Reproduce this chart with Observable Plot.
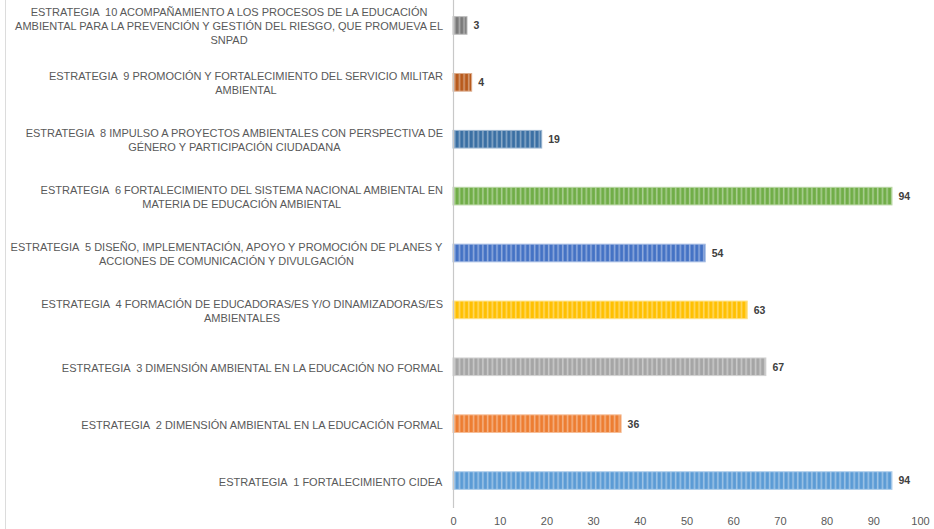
<!DOCTYPE html>
<html><head><meta charset="utf-8">
<script src="https://cdn.jsdelivr.net/npm/d3@7"></script>
<script src="https://cdn.jsdelivr.net/npm/@observablehq/plot@0.6"></script>
<style>
body{margin:0;background:#fff;}
#wrap{position:relative;width:934px;height:529px;overflow:hidden;}
#edge{position:absolute;left:5px;top:0;width:1px;height:529px;background:#dcdcdc;}
svg text{white-space:pre;}
</style></head><body><div id="wrap"><div id="edge"></div></div>
<script>
const labels = [
  "ESTRATEGIA  10 ACOMPAÑAMIENTO A LOS PROCESOS DE LA EDUCACIÓN\nAMBIENTAL PARA LA PREVENCIÓN Y GESTIÓN DEL RIESGO, QUE PROMUEVA EL\nSNPAD",
  "ESTRATEGIA  9 PROMOCIÓN Y FORTALECIMIENTO DEL SERVICIO MILITAR\nAMBIENTAL",
  "ESTRATEGIA  8 IMPULSO A PROYECTOS AMBIENTALES CON PERSPECTIVA DE\nGÉNERO Y PARTICIPACIÓN CIUDADANA",
  "ESTRATEGIA  6 FORTALECIMIENTO DEL SISTEMA NACIONAL AMBIENTAL EN\nMATERIA DE EDUCACIÓN AMBIENTAL",
  "ESTRATEGIA  5 DISEÑO, IMPLEMENTACIÓN, APOYO Y PROMOCIÓN DE PLANES Y\nACCIONES DE COMUNICACIÓN Y DIVULGACIÓN",
  "ESTRATEGIA  4 FORMACIÓN DE EDUCADORAS/ES Y/O DINAMIZADORAS/ES\nAMBIENTALES",
  "ESTRATEGIA  3 DIMENSIÓN AMBIENTAL EN LA EDUCACIÓN NO FORMAL",
  "ESTRATEGIA  2 DIMENSIÓN AMBIENTAL EN LA EDUCACIÓN FORMAL",
  "ESTRATEGIA  1 FORTALECIMIENTO CIDEA"
];
const values = [3, 4, 19, 94, 54, 63, 67, 36, 94];
const colors = ["#7a7a7a", "#b85a1c", "#3a6fa3", "#70ad47", "#4472c4", "#ffc000", "#a5a5a5", "#ed7d31", "#5b9bd5"];
const xTicks = [0, 10, 20, 30, 40, 50, 60, 70, 80, 90, 100];

const data = labels.map((label, i) => ({label, value: values[i], color: colors[i]}));

const chart = Plot.plot({
  width: 934, height: 529,
  marginLeft: 453, marginRight: 14, marginTop: 0, marginBottom: 21,
  style: {fontFamily: "'Liberation Sans', Arial, sans-serif", background: "transparent", color: "#595959", overflow: "visible"},
  x: {domain: [0, 100], ticks: xTicks, label: null, axis: null},
  y: {domain: labels, range: [-3, 509], round: false, paddingInner: 0.69, paddingOuter: 0.345, axis: null},
  marks: [
    Plot.barX(data, {y: "label", x: "value", fill: "color"}),
    Plot.ruleX([0], {stroke: "#c8c8c8", strokeWidth: 1.2}),
    Plot.text(data, {y: "label", x: 0, text: "label", textAnchor: "middle", fontSize: 11, lineHeight: 1.27, fill: "#595959"}),
    Plot.text(data, {y: "label", x: "value", text: d => String(d.value), dx: 6, textAnchor: "start", fontWeight: "bold", fontSize: 10.5, fill: "#404040"}),
    Plot.axisX({ticks: xTicks, tickSize: 0, tickPadding: 9, fontSize: 11, label: null})
  ]
});

document.getElementById("wrap").appendChild(chart);

// stripe patterns for bars
const ns = "http://www.w3.org/2000/svg";
const defs = document.createElementNS(ns, "defs");
chart.insertBefore(defs, chart.firstChild);
const lighten = (c, t) => { const k = d3.rgb(c); return d3.rgb(k.r + (255 - k.r) * t, k.g + (255 - k.g) * t, k.b + (255 - k.b) * t).formatHex(); };
colors.forEach((c, i) => {
  const p = document.createElementNS(ns, "pattern");
  p.setAttribute("id", "pat" + i);
  p.setAttribute("patternUnits", "userSpaceOnUse");
  p.setAttribute("width", "4.7");
  p.setAttribute("height", "40");
  const r0 = document.createElementNS(ns, "rect");
  r0.setAttribute("width", "4.7"); r0.setAttribute("height", "40"); r0.setAttribute("fill", c);
  const r1 = document.createElementNS(ns, "rect");
  r1.setAttribute("x", "2.7"); r1.setAttribute("width", "1.6"); r1.setAttribute("height", "40"); r1.setAttribute("fill", lighten(c, 0.4));
  p.appendChild(r0); p.appendChild(r1);
  defs.appendChild(p);
});
chart.querySelectorAll('g[aria-label="bar"] rect').forEach(r => {
  const f = (r.getAttribute("fill") || "").toLowerCase();
  const i = colors.indexOf(f);
  if (i >= 0) {
    r.setAttribute("fill", "url(#pat" + i + ")");
    r.setAttribute("stroke", lighten(colors[i], 0.5));
    r.setAttribute("stroke-width", "1");
  }
});

// right-align category label blocks (lines centered within block)
const origin = chart.getBoundingClientRect();
chart.querySelectorAll("text").forEach(t => {
  if (!t.textContent.startsWith("ESTRATEGIA")) return;
  const b = t.getBoundingClientRect();
  const dx = 443 - (b.right - origin.left);
  const prev = t.getAttribute("transform") || "";
  t.setAttribute("transform", `translate(${dx},0) ` + prev);
});
</script></body></html>
